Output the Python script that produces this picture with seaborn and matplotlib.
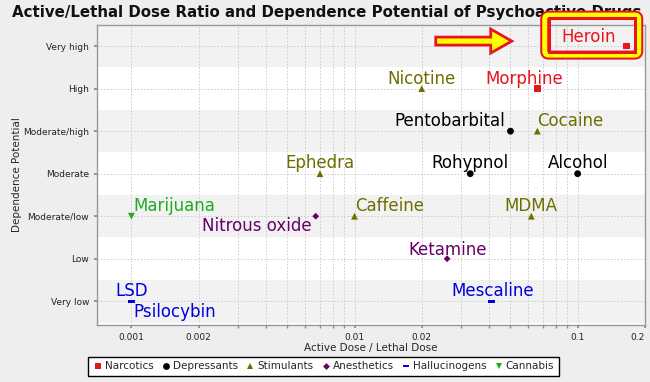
import matplotlib.pyplot as plt
import matplotlib.patches as mpatches
from matplotlib.path import Path
from matplotlib.ticker import FixedLocator, NullFormatter
import pandas as pd
import seaborn as sns

drugs = ["Heroin", "Morphine", "Nicotine", "Pentobarbital", "Cocaine", "Ephedra", "Rohypnol", "Alcohol",
         "Marijuana", "Nitrous oxide", "Caffeine", "MDMA", "Ketamine", "LSD", "Psilocybin", "Mescaline"]
ratio = [0.166, 0.066, 0.02, 0.05, 0.066, 0.007, 0.033, 0.1,
         0.001, 0.0067, 0.01, 0.062, 0.026, 0.001, 0.001, 0.041]
dependence = ["Very high", "High", "High", "Moderate/high", "Moderate/high", "Moderate", "Moderate", "Moderate",
              "Moderate/low", "Moderate/low", "Moderate/low", "Moderate/low", "Low", "Very low", "Very low", "Very low"]
drug_class = ["Narcotics", "Narcotics", "Stimulants", "Depressants", "Stimulants", "Stimulants", "Depressants",
              "Depressants", "Cannabis", "Anesthetics", "Stimulants", "Stimulants", "Anesthetics",
              "Hallucinogens", "Hallucinogens", "Hallucinogens"]
levels = ["Very low", "Low", "Moderate/low", "Moderate", "Moderate/high", "High", "Very high"]
classes = ["Narcotics", "Depressants", "Stimulants", "Anesthetics", "Hallucinogens", "Cannabis"]
x_tick_values = [0.001, 0.002, 0.01, 0.02, 0.1, 0.2]

colors = {"Narcotics": "#e8141e", "Depressants": "#000000", "Stimulants": "#6e6e00",
          "Anesthetics": "#660066", "Hallucinogens": "#0000dd", "Cannabis": "#1faa1f"}
bar = Path([(-1, -0.4), (1, -0.4), (1, 0.4), (-1, 0.4), (-1, -0.4)],
           [Path.MOVETO, Path.LINETO, Path.LINETO, Path.LINETO, Path.CLOSEPOLY])
diamond = Path([(0, 1), (1, 0), (0, -1), (-1, 0), (0, 1)],
               [Path.MOVETO, Path.LINETO, Path.LINETO, Path.LINETO, Path.CLOSEPOLY])
markers = {"Narcotics": "s", "Depressants": "o", "Stimulants": "^",
           "Anesthetics": diamond, "Hallucinogens": bar, "Cannabis": "v"}

# label placement: (ha, dx px, dy px) relative to the marker
label_pos = {"Heroin": ("right", -11, 9), "Morphine": ("center", -13, 10), "Nicotine": ("center", 0, 10),
             "Pentobarbital": ("right", -5, 10), "Cocaine": ("left", 0, 10), "Ephedra": ("center", 0, 11),
             "Rohypnol": ("center", 0, 11), "Alcohol": ("center", 0, 11), "Marijuana": ("left", 2, 10),
             "Nitrous oxide": ("right", -4, -10), "Caffeine": ("left", 1, 10), "MDMA": ("center", 0, 10),
             "Ketamine": ("center", 1, 9), "LSD": ("center", 0, 10), "Psilocybin": ("left", 2, -11),
             "Mescaline": ("center", 1, 10)}

df = pd.DataFrame({"drug": drugs, "ratio": ratio, "dependence": dependence, "class": drug_class})
df["level"] = df["dependence"].map(levels.index)

sns.set_theme(style="white")
plt.rcParams["font.family"] = ["DejaVu Sans"]

fig = plt.figure(figsize=(6.5, 3.82), dpi=100, facecolor="#eeeeee")
ax = fig.add_axes([0.149, 0.149, 0.843, 0.786])
ax.set_facecolor("white")

for i in range(0, len(levels), 2):
    ax.axhspan(i - 0.5, i + 0.5, color="#f2f2f2", zorder=0, lw=0)

sns.scatterplot(data=df, x="ratio", y="level", hue="class", style="class", hue_order=classes,
                style_order=classes, palette=colors, markers=markers, s=24, linewidth=0, ax=ax, zorder=3)

ax.set_xscale("log")
ax.set_xlim(0.0007, 0.2)
ax.set_ylim(-0.56, 6.5)

grid_x = [m * 10.0 ** e for e in (-3, -2, -1) for m in range(1, 10)] + [0.2]
ax.xaxis.set_major_locator(FixedLocator(x_tick_values))
ax.xaxis.set_minor_locator(FixedLocator(grid_x))
ax.xaxis.set_minor_formatter(NullFormatter())
ax.set_xticklabels([f"{v:g}" for v in x_tick_values])
ax.get_xticklabels()[-1].set_horizontalalignment("right")
ax.set_yticks(range(len(levels)))
ax.set_yticklabels(levels)
ax.tick_params(axis="both", which="both", labelsize=6.5, length=2, color="#888888", direction="out",
               labelcolor="#222222", bottom=True, left=True)
for gx in grid_x:
    ax.axvline(gx, color="#c8c8c8", lw=0.6, ls=(0, (2, 2)), zorder=1)
for gy in range(len(levels)):
    ax.axhline(gy, color="#c8c8c8", lw=0.6, ls=(0, (2, 2)), zorder=1)
for sp in ax.spines.values():
    sp.set_color("#999999")
    sp.set_linewidth(1)

ax.set_xlabel("Active Dose / Lethal Dose", fontsize=7.5, labelpad=1)
ax.set_ylabel("Dependence Potential", fontsize=7.5, labelpad=1)

for _, row in df.iterrows():
    ha, dx, dy = label_pos[row["drug"]]
    ax.annotate(row["drug"], (row["ratio"], row["level"]), xytext=(dx, dy), textcoords="offset pixels",
                ha=ha, va="center", fontsize=12, color=colors[row["class"]], zorder=4)

fig.text(0.502, 0.968, "Active/Lethal Dose Ratio and Dependence Potential of Psychoactive Drugs",
         ha="center", va="center", fontsize=10.8, fontweight="bold", color="#111111")

# highlight box and arrow around Heroin, placed from its marker position
hx, hy = ax.transData.transform((ratio[0], levels.index(dependence[0])))
outer = mpatches.FancyBboxPatch((hx - 82, hy - 9), 94, 40, boxstyle="round,pad=0,rounding_size=4",
                                transform=None, fill=False, ec="#e8141e", lw=6.5, zorder=10, clip_on=False)
middle = mpatches.FancyBboxPatch((hx - 82, hy - 9), 94, 40, boxstyle="round,pad=0,rounding_size=4",
                                 transform=None, fill=False, ec="#ffff00", lw=3.6, zorder=11, clip_on=False)
inner = mpatches.Rectangle((hx - 78, hy - 6), 86, 34, transform=None, fill=False, ec="#e8141e",
                           lw=2.2, zorder=12, clip_on=False)
arrow = mpatches.Polygon([(hx - 191, hy + 1), (hx - 136, hy + 1), (hx - 136, hy - 7), (hx - 115, hy + 5),
                          (hx - 136, hy + 17), (hx - 136, hy + 9), (hx - 191, hy + 9)],
                         closed=True, transform=None, fc="#ffff00", ec="#e8141e", lw=2, zorder=10,
                         clip_on=False)
for p in (outer, middle, inner, arrow):
    fig.patches.append(p)

sns.move_legend(ax, "lower center", bbox_to_anchor=(0.498, 0.002), bbox_transform=fig.transFigure,
                ncol=6, title=None, frameon=True, fancybox=False, edgecolor="black", framealpha=1,
                facecolor="white", fontsize=7.5, handletextpad=0.2, columnspacing=0.75,
                borderpad=0.45, handlelength=0.9)
leg = ax.get_legend()
leg.get_frame().set_linewidth(1)

fig.savefig("out.png", dpi=100, facecolor=fig.get_facecolor())
